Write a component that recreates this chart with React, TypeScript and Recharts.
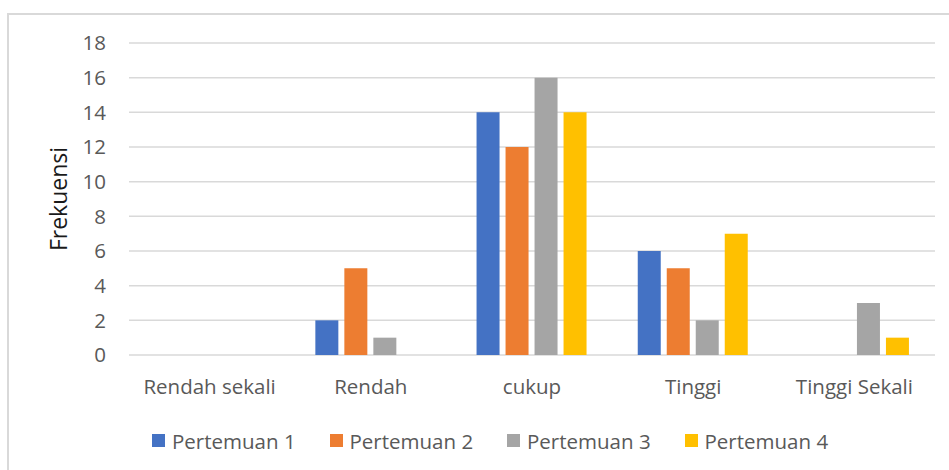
import { BarChart, Bar, XAxis, YAxis, CartesianGrid, Legend } from 'recharts'

const categories = ['Rendah sekali', 'Rendah', 'cukup', 'Tinggi', 'Tinggi Sekali']
const pertemuan1 = [0, 2, 14, 6, 0]
const pertemuan2 = [0, 5, 12, 5, 0]
const pertemuan3 = [0, 1, 16, 2, 3]
const pertemuan4 = [0, 0, 14, 7, 1]
const yTicks = [0, 2, 4, 6, 8, 10, 12, 14, 16, 18]
const edgeTicks = [0, 1, 2, 3, 4, 5]

const series = [
  { key: 'p1', name: 'Pertemuan 1', color: '#4472C4' },
  { key: 'p2', name: 'Pertemuan 2', color: '#ED7D31' },
  { key: 'p3', name: 'Pertemuan 3', color: '#A5A5A5' },
  { key: 'p4', name: 'Pertemuan 4', color: '#FFC000' },
]

const data = categories.map((cat, i) => ({
  cat,
  p1: pertemuan1[i],
  p2: pertemuan2[i],
  p3: pertemuan3[i],
  p4: pertemuan4[i],
}))

const tickStyle = { fill: '#595959', fontSize: 20.5 }

function LegendBox({ payload }: any) {
  return (
    <div style={{ display: 'flex', height: 26, alignItems: 'center', paddingLeft: 152 }}>
      {(payload || []).map((p: any) => (
        <div key={p.value} style={{ width: 177.5, display: 'flex', alignItems: 'center' }}>
          <span style={{ width: 13, height: 13, background: p.color, marginRight: 7 }} />
          <span style={{ fontSize: 20.5, color: '#595959', lineHeight: '26px' }}>{p.value}</span>
        </div>
      ))}
    </div>
  )
}

function AxisTitle({ viewBox }: any) {
  const cx = 58
  const cy = viewBox.y + viewBox.height / 2
  return (
    <text
      x={cx}
      y={cy}
      transform={`rotate(-90, ${cx}, ${cy})`}
      textAnchor="middle"
      dominantBaseline="central"
      fontSize={23}
      fill="#1a1a1a"
    >
      Frekuensi
    </text>
  )
}

export default function App() {
  return (
    <div
      style={{
        position: 'absolute',
        left: 0,
        top: 0,
        width: 949,
        height: 470,
        overflow: 'hidden',
        background: '#fff',
        fontFamily: '"Open Sans", sans-serif',
      }}
    >
      <div
        style={{
          position: 'absolute',
          left: 7,
          top: 13,
          width: 1100,
          height: 700,
          border: '2px solid #d9d9d9',
        }}
      />
      <div style={{ position: 'absolute', left: 0, top: 0 }}>
        <BarChart
          width={949}
          height={470}
          data={data}
          margin={{ top: 43, right: 14, left: 0, bottom: 16.5 }}
          barCategoryGap="15.6%"
          barGap={6}
        >
          <CartesianGrid vertical={false} stroke="#d9d9d9" strokeWidth={1.5} />
          <XAxis
            xAxisId="edges"
            type="number"
            domain={[0, 5]}
            ticks={edgeTicks}
            allowDataOverflow
            height={0}
            tickFormatter={() => ''}
            stroke="#d9d9d9"
            strokeWidth={1.5}
            tickSize={7}
          />
          <XAxis
            dataKey="cat"
            interval={0}
            axisLine={false}
            tickLine={false}
            tickSize={0}
            tickMargin={24}
            height={72.5}
            tick={tickStyle}
          />
          <YAxis
            domain={[0, 18]}
            ticks={yTicks}
            width={129}
            axisLine={false}
            tickLine={false}
            tickSize={0}
            tickMargin={23}
            tick={tickStyle}
            label={{ content: AxisTitle }}
          />
          <Legend verticalAlign="bottom" content={LegendBox} />
          {series.map((s) => (
            <Bar key={s.key} dataKey={s.key} name={s.name} fill={s.color} isAnimationActive={false} />
          ))}
        </BarChart>
      </div>
    </div>
  )
}
